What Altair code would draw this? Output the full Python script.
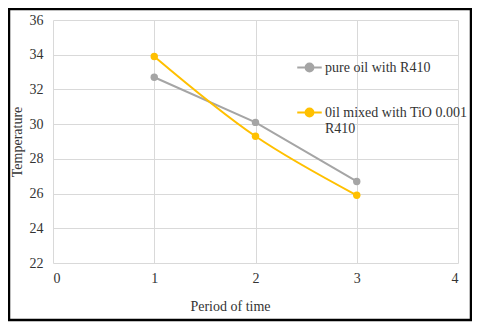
import altair as alt
import pandas as pd

periods = [1, 2, 3]
series_names = ["pure oil with R410", "0il mixed with TiO 0.001 R410"]
pure_oil = [32.7, 30.1, 26.7]
tio_oil = [33.9, 29.3, 25.9]
colors = ["#A5A5A5", "#FFC000"]
x_ticks = [0, 1, 2, 3, 4]
y_ticks = [22, 24, 26, 28, 30, 32, 34, 36]

df = pd.DataFrame({
    "period": periods * 2,
    "temp": pure_oil + tio_oil,
    "series": [series_names[0]] * 3 + [series_names[1]] * 3,
})

FONT = "Liberation Serif, Times New Roman, serif"
W, H = 405, 243

color_scale = alt.Scale(domain=series_names, range=colors)
legend = alt.Legend(
    title=None, orient="none", legendX=243, legendY=34,
    symbolType="M-1,0H1M-0.32,0A0.32,0.32,0,1,1,0.32,0A0.32,0.32,0,1,1,-0.32,0Z",
    symbolSize=600, symbolStrokeWidth=2,
    labelFont=FONT, labelFontSize=14, labelColor="#333333", labelLimit=300,
    labelOffset=2, rowPadding=23,
    labelExpr="datum.label == '0il mixed with TiO 0.001 R410' ? ['0il mixed with TiO 0.001', 'R410'] : datum.label",
)

x_enc = alt.X("period:Q", scale=alt.Scale(domain=[0, 4], nice=False),
              axis=alt.Axis(values=x_ticks, title="Period of time", titleX=177,
                            titleY=36, labelPadding=8, format="d"))
y_enc = alt.Y("temp:Q", scale=alt.Scale(domain=[22, 36], nice=False, zero=False),
              axis=alt.Axis(values=y_ticks, title="Temperature", labelPadding=10,
                            titlePadding=5))

base = alt.Chart(df)

gray_line = base.transform_filter(alt.datum.series == series_names[0]).mark_line(
    strokeWidth=2, interpolate="linear").encode(
    x=x_enc, y=y_enc, color=alt.Color("series:N", scale=color_scale, legend=legend))
yellow_line = base.transform_filter(alt.datum.series == series_names[1]).mark_line(
    strokeWidth=2, interpolate="catmull-rom").encode(
    x=x_enc, y=y_enc, color=alt.Color("series:N", scale=color_scale, legend=legend))
points = base.mark_point(filled=True, size=55, opacity=1).encode(
    x=x_enc, y=y_enc, color=alt.Color("series:N", scale=color_scale, legend=legend))

border = alt.Chart(pd.DataFrame({"a": [0]})).mark_rect(
    fill=None, stroke="#000000", strokeWidth=2.5).encode(
    x=alt.value(-44), x2=alt.value(W + 13), y=alt.value(-11), y2=alt.value(H + 57))

chart = alt.layer(border, gray_line, yellow_line, points).properties(
    width=W, height=H,
    autosize=alt.AutoSizeParams(type="none"),
    padding={"left": 45, "top": 12, "right": 14, "bottom": 59},
    background="white",
).configure(font=FONT).configure_view(stroke=None).configure_axis(
    grid=True, gridColor="#D9D9D9", gridWidth=1, domain=False, ticks=False,
    labelFont=FONT, labelFontSize=14, labelColor="#333333",
    titleFont=FONT, titleFontSize=14, titleColor="#333333", titleFontWeight="normal",
).configure_legend(labelFont=FONT)

chart.save("out.html", embed_options={"renderer": "svg", "actions": False})
